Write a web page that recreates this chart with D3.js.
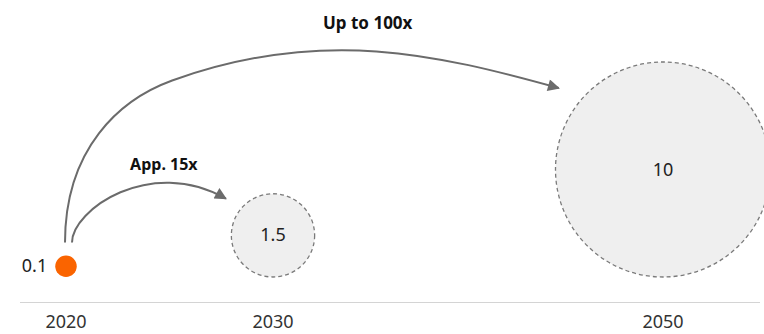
<!DOCTYPE html>
<html lang="en">
<head>
<meta charset="utf-8">
<title>Growth bubbles</title>
<script src="https://cdn.jsdelivr.net/npm/d3@7"></script>
<style>
  body { margin: 0; background: #fff; }
  text { font-family: "Noto Sans", "Open Sans", sans-serif; }
</style>
</head>
<body>
<svg id="chart" width="764" height="334"></svg>
<script>
// data
var years = [2020, 2030, 2050];
var values = [0.1, 1.5, 10];
var valueLabels = ["0.1", "1.5", "10"];
var arrowFrom = [0, 0];
var arrowTo = [1, 2];
var arrowLabels = ["App. 15x", "Up to 100x"];

// layout (hand tuned)
var baseY = 277;          // all bubbles sit on this line
var axisY = 302.5;
// arrow shapes: bezier segments [ctrl1, ctrl2, end] as fractions of the start->end box
// (u along x, v upwards, end point = [1,1])
var arrowShape = [
  {dx0: 6, fs: 16, lu: 0.597, lv: 1.66,
   segs: [[[0, 0.735], [0.506, 1.98], [1, 1]]]},
  {dx0: -1, fs: 17, lu: 0.613, lv: 1.381,
   segs: [[[0, 0.61], [0.111, 0.926], [0.217, 1.049]],
          [[0.521, 1.40], [0.755, 1.217], [1, 1]]]}
];

var svg = d3.select("#chart");

var x = d3.scaleLinear().domain([2020, 2030, 2050]).range([66, 273, 663]);
var r = d3.scaleSqrt().domain([0, 10]).range([0, 107.5]);

var pts = years.map(function(y, i) {
  return {year: y, value: values[i], label: valueLabels[i],
          cx: x(y), r: r(values[i]), cy: baseY - r(values[i])};
});

// arrow marker
svg.append("defs").append("marker")
  .attr("id", "head")
  .attr("viewBox", "0 0 10 10")
  .attr("refX", 9).attr("refY", 5)
  .attr("markerUnits", "userSpaceOnUse")
  .attr("markerWidth", 14).attr("markerHeight", 12)
  .attr("orient", "auto")
  .append("path").attr("d", "M0,0L10,5L0,10Z").attr("fill", "#6b6b6b");

// baseline
svg.append("line")
  .attr("x1", 20).attr("x2", 760)
  .attr("y1", axisY).attr("y2", axisY)
  .attr("stroke", "#d4d4d4").attr("stroke-width", 1);

// year labels
svg.selectAll("text.year").data(pts).enter().append("text")
  .attr("class", "year")
  .attr("x", function(d){ return d.cx; })
  .attr("y", 328)
  .attr("text-anchor", "middle")
  .attr("font-size", 18)
  .attr("fill", "#333")
  .text(function(d){ return d.year; });

// bubbles (first one is the solid orange dot)
var future = pts.slice(1);
svg.selectAll("circle.future").data(future).enter().append("circle")
  .attr("class", "future")
  .attr("cx", function(d){ return d.cx; })
  .attr("cy", function(d){ return d.cy; })
  .attr("r", function(d){ return d.r; })
  .attr("fill", "#efefef")
  .attr("stroke", "#7a7a7a")
  .attr("stroke-width", 1.3)
  .attr("stroke-dasharray", "4,3");

svg.selectAll("text.future").data(future).enter().append("text")
  .attr("class", "future")
  .attr("x", function(d){ return d.cx; })
  .attr("y", function(d){ return d.cy + 6; })
  .attr("text-anchor", "middle")
  .attr("font-size", 18)
  .attr("fill", "#222")
  .text(function(d){ return d.label; });

var now = pts[0];
svg.append("circle")
  .attr("cx", now.cx).attr("cy", now.cy).attr("r", now.r)
  .attr("fill", "#fa6400");
svg.append("text")
  .attr("x", now.cx - now.r - 8)
  .attr("y", now.cy + 6)
  .attr("text-anchor", "end")
  .attr("font-size", 18)
  .attr("fill", "#222")
  .text(now.label);

// curved arrows
arrowFrom.forEach(function(fi, k) {
  var s = pts[fi], e = pts[arrowTo[k]], sh = arrowShape[k];
  var p0 = [s.cx + sh.dx0, s.cy - s.r - 13];
  var ang = 38 * Math.PI / 180;
  var dist = e.r * 1.1 + 14;
  var p3 = [e.cx - dist * Math.cos(ang), e.cy - dist * Math.sin(ang)];
  var w = p3[0] - p0[0], h = p0[1] - p3[1];
  function place(q) { return [p0[0] + q[0] * w, p0[1] - q[1] * h]; }

  var path = d3.path();
  path.moveTo(p0[0], p0[1]);
  sh.segs.forEach(function(sg) {
    var c1 = place(sg[0]), c2 = place(sg[1]), en = place(sg[2]);
    path.bezierCurveTo(c1[0], c1[1], c2[0], c2[1], en[0], en[1]);
  });
  svg.append("path")
    .attr("d", path.toString())
    .attr("fill", "none")
    .attr("stroke", "#6b6b6b")
    .attr("stroke-width", 2)
    .attr("marker-end", "url(#head)");

  var lp = place([sh.lu, sh.lv]);
  svg.append("text")
    .attr("x", lp[0])
    .attr("y", lp[1])
    .attr("text-anchor", "middle")
    .attr("font-size", sh.fs)
    .attr("font-weight", "bold")
    .attr("fill", "#111")
    .text(arrowLabels[k]);
});
</script>
</body>
</html>
